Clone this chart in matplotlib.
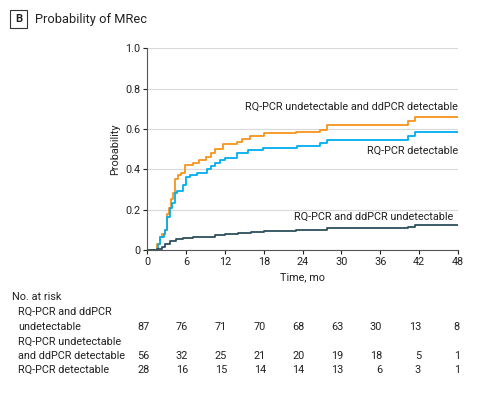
import matplotlib
matplotlib.use("Agg")
import matplotlib.pyplot as plt
import matplotlib.transforms as mtransforms
from matplotlib.patches import Rectangle

plt.rcParams['font.family'] = ['Roboto', 'DejaVu Sans']

# Cumulative probability of MRec (step curves)
t_orange = [0, 1.5, 1.9, 2.3, 2.7, 3.0, 3.3, 3.6, 4.0, 4.3, 4.8, 5.2, 5.8, 7.0, 8.0, 9.0,
            9.8, 10.5, 11.7, 13.8, 14.6, 15.9, 18.0, 23.0, 26.7, 27.7, 40.3, 41.4, 48]
p_orange = [0, 0.03, 0.066, 0.08, 0.10, 0.18, 0.21, 0.25, 0.28, 0.35, 0.37, 0.38, 0.42, 0.43,
            0.445, 0.46, 0.48, 0.50, 0.525, 0.535, 0.55, 0.565, 0.578, 0.587, 0.594, 0.62,
            0.64, 0.661, 0.661]

t_blue = [0, 1.6, 2.0, 2.5, 2.8, 3.1, 3.5, 3.8, 4.2, 4.6, 5.5, 5.9, 6.6, 7.6, 9.2, 9.8,
          10.5, 11.2, 12.0, 13.8, 15.5, 17.9, 23.1, 26.7, 27.7, 40.3, 41.4, 48]
p_blue = [0, 0.03, 0.066, 0.08, 0.10, 0.165, 0.21, 0.235, 0.28, 0.29, 0.32, 0.363, 0.37,
          0.38, 0.40, 0.415, 0.43, 0.445, 0.455, 0.48, 0.495, 0.504, 0.515, 0.53, 0.545,
          0.567, 0.587, 0.587]

t_dark = [0, 1.5, 2.2, 2.8, 3.5, 4.5, 5.5, 7.0, 9.0, 10.5, 12.0, 14.0, 16.0, 18.0, 23.0,
          27.7, 40.3, 41.4, 48]
p_dark = [0, 0.005, 0.015, 0.03, 0.045, 0.052, 0.058, 0.062, 0.065, 0.072, 0.078, 0.085,
          0.09, 0.095, 0.10, 0.11, 0.115, 0.122, 0.122]

x_ticks = [0, 6, 12, 18, 24, 30, 36, 42, 48]
y_ticks = [0, 0.2, 0.4, 0.6, 0.8, 1.0]
y_labels = ['0', '0.2', '0.4', '0.6', '0.8', '1.0']

# No. at risk
risk_dark = [87, 76, 71, 70, 68, 63, 30, 13, 8]
risk_orange = [56, 32, 25, 21, 20, 19, 18, 5, 1]
risk_blue = [28, 16, 15, 14, 14, 13, 6, 3, 1]

c_orange = '#F7941E'
c_blue = '#00AEEF'
c_dark = '#2E4F5C'
c_text = '#222222'
fs = 7.8

fig = plt.figure(figsize=(4.8, 3.96), dpi=100)
ax = fig.add_axes([0.307, 0.369, 0.647, 0.509])

ax.step(t_orange, p_orange, where='post', color=c_orange, lw=1.3)
ax.step(t_blue, p_blue, where='post', color=c_blue, lw=1.3)
ax.step(t_dark, p_dark, where='post', color=c_dark, lw=1.3)

ax.set_xlim(0, 48)
ax.set_ylim(0, 1.0)
ax.set_xticks(x_ticks)
ax.set_yticks(y_ticks)
ax.set_yticklabels(y_labels)
ax.tick_params(labelsize=fs, colors=c_text, length=3, width=0.8, pad=2)
for s in ['top', 'right']:
    ax.spines[s].set_visible(False)
for s in ['left', 'bottom']:
    ax.spines[s].set_color('#555555')
    ax.spines[s].set_linewidth(0.8)
ax.grid(axis='y', color='#d9d9d9', lw=0.8)
ax.set_axisbelow(True)
ax.set_xlabel('Time, mo', fontsize=fs, color=c_text, labelpad=4)
ax.set_ylabel('Probability', fontsize=fs, color=c_text, labelpad=4)

ax.text(48, 0.709, 'RQ-PCR undetectable and ddPCR detectable', ha='right', va='center',
        fontsize=fs, color=c_text)
ax.text(48, 0.49, 'RQ-PCR detectable', ha='right', va='center', fontsize=fs, color=c_text)
ax.text(47.3, 0.165, 'RQ-PCR and ddPCR undetectable', ha='right', va='center',
        fontsize=fs, color=c_text)

# title panel
fig.patches.append(Rectangle((10 / 480, 1 - 28 / 396), 17 / 480, 18 / 396,
                             transform=fig.transFigure, fill=False, ec='#333333', lw=0.8))
fig.text(18.5 / 480, 1 - 19 / 396, 'B', ha='center', va='center', fontsize=8,
         weight='bold', color=c_text)
fig.text(35 / 480, 1 - 19 / 396, 'Probability of MRec', ha='left', va='center',
         fontsize=9.3, color=c_text)

# risk table
trans = mtransforms.blended_transform_factory(ax.transData, fig.transFigure)
fig.text(12 / 480, 1 - 296.7 / 396, 'No. at risk', ha='left', va='center', fontsize=fs,
         color=c_text)
row_lbls = [('RQ-PCR and ddPCR', 312), ('undetectable', 326.7), ('RQ-PCR undetectable', 342),
            ('and ddPCR detectable', 356), ('RQ-PCR detectable', 370)]
for txt, py in row_lbls:
    fig.text(18.3 / 480, 1 - py / 396, txt, ha='left', va='center', fontsize=fs,
             color=c_text)
for vals, py in [(risk_dark, 326.7), (risk_orange, 356), (risk_blue, 370)]:
    for x, v in zip(x_ticks, vals):
        ax.text(x + 0.3, 1 - py / 396, str(v), transform=trans, ha='right', va='center',
                fontsize=fs, color=c_text)

fig.savefig('out.png', dpi=100)
